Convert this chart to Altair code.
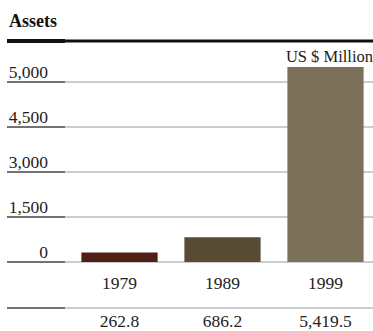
import altair as alt
import pandas as pd

years = ["1979", "1989", "1999"]
assets = [262.8, 686.2, 5419.5]
bar_colors = ["#521f15", "#584b33", "#7b705a"]
tick_labels = ["0", "1,500", "3,000", "4,500", "5,000"]

FONT = "Liberation Serif"

bars_df = pd.DataFrame({"year": years, "assets": assets})
ticks_df = pd.DataFrame({"label": tick_labels})

xscale = alt.Scale(type="band", domain=years, range=[68, 377],
                   paddingInner=0.26, paddingOuter=0.13)
yscale = alt.Scale(domain=[0, 5000], range=[262, 82], zero=True, nice=False)

grid_y = alt.Y("label:O", scale=alt.Scale(type="point", domain=tick_labels,
                                          range=[262, 82], padding=0), axis=None)

grid = alt.Chart(ticks_df).mark_rule(color="#9a9a9a", strokeWidth=1).encode(
    y=grid_y, x=alt.value(7), x2=alt.value(373))
grid_left = alt.Chart(ticks_df).mark_rule(color="#555555", strokeWidth=1.3).encode(
    y=grid_y, x=alt.value(7), x2=alt.value(65))
grid_text = alt.Chart(ticks_df).mark_text(
    align="right", baseline="alphabetic", dy=-4, font=FONT, fontSize=17.5, color="#222222"
).encode(y=grid_y, x=alt.value(48), text="label:N")

bars = alt.Chart(bars_df).mark_bar().encode(
    x=alt.X("year:N", scale=xscale, axis=None),
    y=alt.Y("assets:Q", scale=yscale, axis=None),
    color=alt.Color("year:N", scale=alt.Scale(domain=years, range=bar_colors), legend=None),
)

year_text = alt.Chart(bars_df).mark_text(
    baseline="alphabetic", font=FONT, fontSize=17.5, color="#222222"
).encode(x=alt.X("year:N", scale=xscale, axis=None), y=alt.value(289), text="year:N")

value_text = alt.Chart(bars_df).mark_text(
    baseline="alphabetic", font=FONT, fontSize=17.5, color="#222222"
).encode(x=alt.X("year:N", scale=xscale, axis=None), y=alt.value(327),
         text=alt.Text("assets:Q", format=",.1f"))

one = pd.DataFrame({"t": ["Assets"]})
title = alt.Chart(one).mark_text(
    align="left", baseline="alphabetic", font=FONT, fontSize=18, fontWeight="bold",
    color="#111111"
).encode(x=alt.value(9), y=alt.value(27), text="t:N")

top_rule = alt.Chart(one).mark_rule(color="#111111", strokeWidth=3).encode(
    x=alt.value(7), x2=alt.value(373), y=alt.value(41))
top_rule_left = alt.Chart(one).mark_rule(color="#111111", strokeWidth=4).encode(
    x=alt.value(7), x2=alt.value(65), y=alt.value(41))

unit = pd.DataFrame({"t": ["US $ Million"]})
unit_text = alt.Chart(unit).mark_text(
    align="right", baseline="alphabetic", font=FONT, fontSize=16.5, color="#222222"
).encode(x=alt.value(373), y=alt.value(62), text="t:N")

bottom_rule = alt.Chart(one).mark_rule(color="#9a9a9a", strokeWidth=1).encode(
    x=alt.value(7), x2=alt.value(373), y=alt.value(308))
bottom_rule_left = alt.Chart(one).mark_rule(color="#555555", strokeWidth=1.3).encode(
    x=alt.value(7), x2=alt.value(65), y=alt.value(308))

chart = alt.layer(
    grid, grid_left, grid_text, bars, year_text, value_text,
    title, top_rule, top_rule_left, unit_text, bottom_rule, bottom_rule_left
).resolve_scale(y="independent", x="shared").properties(
    width=373, height=331, autosize=alt.AutoSizeParams(type="none"), padding=0,
    background="white"
).configure_view(stroke=None)

chart.save("out.html", embed_options={"renderer": "svg", "actions": False})
